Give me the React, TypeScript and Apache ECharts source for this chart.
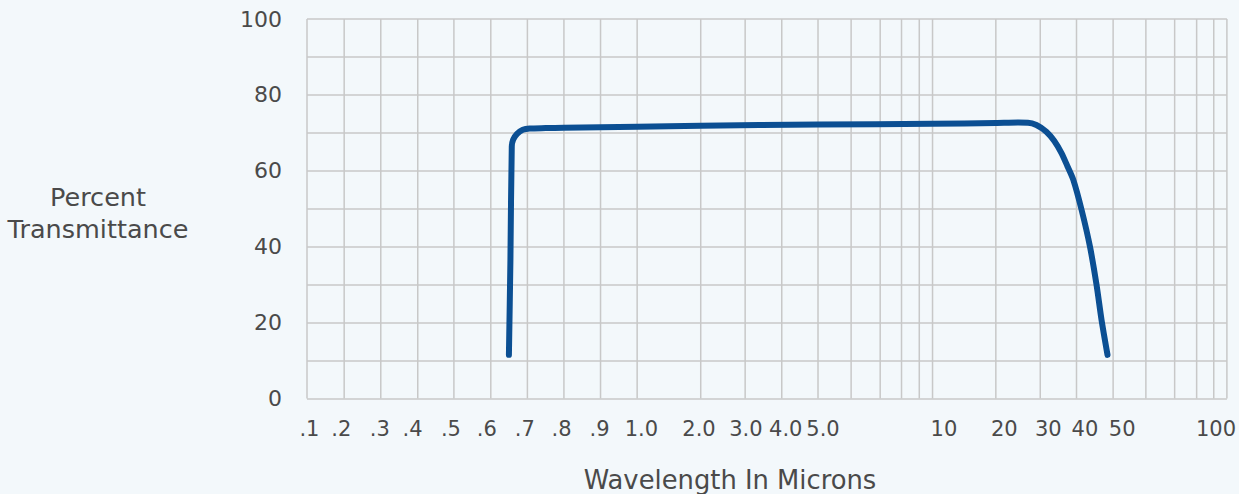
import React, { useEffect, useRef } from "react";
import * as echarts from "echarts";

// Gridline wavelengths (microns) and their positions on the chart's custom x scale (0..100)
const GRID_WL = [0.1, 0.2, 0.3, 0.4, 0.5, 0.6, 0.7, 0.8, 0.9, 1, 2, 3, 4, 5, 6, 7, 8, 9, 10, 20, 30, 40, 50, 60, 70, 80, 90, 100];
const GRID_POS = [0, 4.04, 8.02, 12.04, 15.97, 19.98, 23.96, 27.93, 31.91, 35.89, 42.8, 47.63, 51.61, 55.55, 59.15, 62.31, 64.63, 66.56, 68.0, 74.88, 79.71, 83.65, 87.63, 91.19, 94.32, 96.71, 98.57, 100];

// Tick labels on the x axis and where they sit on the scale
const X_TICK_LABELS = [".1", ".2", ".3", ".4", ".5", ".6", ".7", ".8", ".9", "1.0", "2.0", "3.0", "4.0", "5.0", "10", "20", "30", "40", "50", "100"];
const X_TICK_POS = [0.26, 3.72, 7.92, 11.47, 15.65, 19.55, 23.67, 27.68, 31.8, 36.35, 42.61, 47.71, 52.04, 56.09, 69.24, 75.8, 80.59, 84.57, 88.62, 98.81];

// Transmission curve (wavelength in microns, percent transmittance)
const WAVELENGTH = [0.6495, 0.6536, 0.6573, 0.6611, 0.6716, 0.6874, 0.7063, 0.75, 0.8, 1.0, 2.0, 5.0, 10, 20, 25.1, 27.24, 29.13, 31.68, 33.88, 35.9, 37.47, 39.12, 41.39, 43.68, 45.48, 46.84, 48.47];
const TRANSMITTANCE = [11.5, 36.5, 66.4, 68.2, 69.75, 70.8, 71.15, 71.25, 71.35, 71.6, 71.9, 72.2, 72.4, 72.6, 72.7, 72.68, 72.07, 70.3, 67.85, 64.6, 61.26, 57.6, 49.7, 40.0, 29.9, 20.7, 11.5];

const toAxis = (w: number): number => {
  for (let i = 0; i < GRID_WL.length - 1; i++) {
    if (w >= GRID_WL[i] && w <= GRID_WL[i + 1]) {
      const t = (w - GRID_WL[i]) / (GRID_WL[i + 1] - GRID_WL[i]);
      return GRID_POS[i] + t * (GRID_POS[i + 1] - GRID_POS[i]);
    }
  }
  return w < GRID_WL[0] ? GRID_POS[0] : GRID_POS[GRID_POS.length - 1];
};

const FONT = "DejaVu Sans";
const TEXT_COLOR = "#4a4a4a";
const GRID_COLOR = "#C8C8C8";
const BG = "#F3F8FB";

export default function App() {
  const ref = useRef<HTMLDivElement>(null);
  useEffect(() => {
    document.body.style.margin = "0";
    document.body.style.background = BG;
    if (!ref.current) return;
    const chart = echarts.init(ref.current, null, { renderer: "svg" });
    chart.setOption({
      animation: false,
      backgroundColor: BG,
      grid: { left: 307, right: 10, top: 19, bottom: 95.5, containLabel: false },
      xAxis: {
        type: "value",
        min: 0,
        max: 100,
        axisLine: { show: false },
        axisTick: { show: false },
        splitLine: { show: false },
        axisLabel: {
          customValues: X_TICK_POS,
          formatter: (v: number) => {
            const i = X_TICK_POS.indexOf(v);
            return i >= 0 ? X_TICK_LABELS[i] : "";
          },
          fontFamily: FONT,
          fontSize: 21,
          color: TEXT_COLOR,
          margin: 20,
        },
      },
      yAxis: {
        type: "value",
        min: 0,
        max: 100,
        interval: 10,
        axisLine: { show: false },
        axisTick: { show: false },
        splitLine: { show: true, lineStyle: { color: GRID_COLOR, width: 1.5 } },
        axisLabel: {
          formatter: (v: number) => (v % 20 === 0 ? String(v) : ""),
          fontFamily: FONT,
          fontSize: 22,
          color: TEXT_COLOR,
          margin: 25,
        },
      },
      graphic: [
        {
          type: "text",
          x: 98,
          y: 213,
          style: {
            text: "Percent\nTransmittance",
            fontFamily: FONT,
            fontSize: 25.5,
            lineHeight: 32,
            fill: TEXT_COLOR,
            textAlign: "center",
            textVerticalAlign: "middle",
          },
        },
        {
          type: "text",
          x: 730,
          y: 480,
          style: {
            text: "Wavelength In Microns",
            fontFamily: FONT,
            fontSize: 25.8,
            fill: TEXT_COLOR,
            textAlign: "center",
            textVerticalAlign: "middle",
          },
        },
      ],
      series: [
        {
          type: "custom",
          silent: true,
          z: 1,
          data: GRID_POS.map((p) => [p, 0]),
          encode: { x: 0, y: 1 },
          clip: false,
          renderItem: (_params: any, api: any) => {
            const x = api.value(0);
            const top = api.coord([x, 100]);
            const bot = api.coord([x, 0]);
            return {
              type: "line",
              shape: { x1: top[0], y1: top[1], x2: bot[0], y2: bot[1] },
              style: { stroke: GRID_COLOR, lineWidth: 1.5 },
            };
          },
        },
        {
          type: "line",
          z: 3,
          showSymbol: false,
          symbol: "none",
          smooth: 0.25,
          data: WAVELENGTH.map((w, i) => [toAxis(w), TRANSMITTANCE[i]]),
          lineStyle: { color: "#0B4F93", width: 6, cap: "round", join: "round" },
        },
      ],
    });
    return () => chart.dispose();
  }, []);
  return <div ref={ref} style={{ width: 1239, height: 494 }} />;
}
